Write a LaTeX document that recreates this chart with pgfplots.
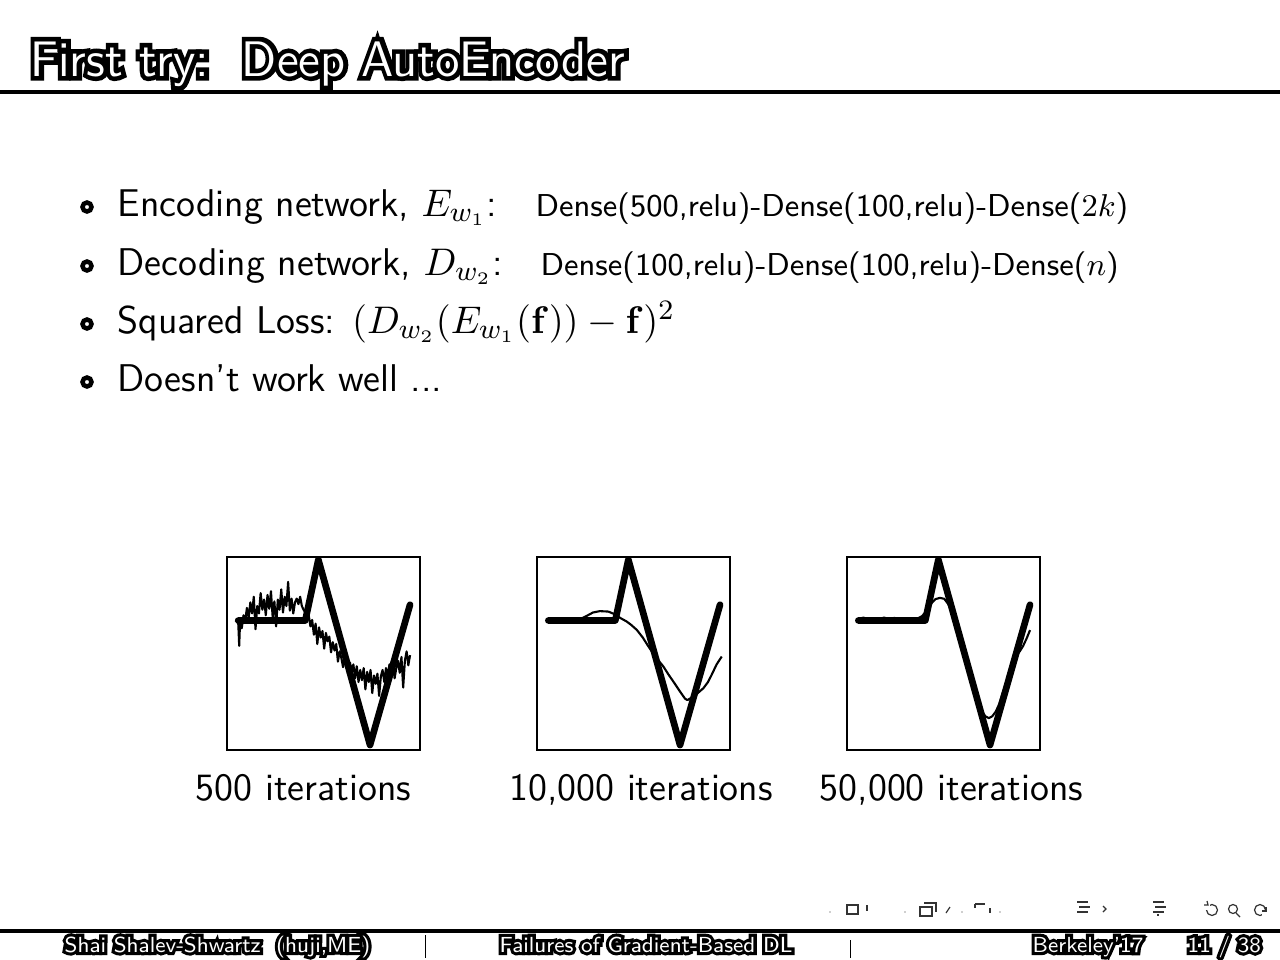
\documentclass[border=0pt]{standalone}
\usepackage{pgfplots}
\pgfplotsset{compat=1.18}
\usepackage{pgfplotstable}
\usepackage{amsmath}

\pgfplotstableread{
x y
0 0.344
39 0.344
46.6 1
76.7 -1
100 0.514
}\target

\pgfplotstableread{
x y
-1.5 0.33
-1 0.36
0 0.30
0.5 0.07
1 0.33
2 0.26
3 0.40
4 0.34
5 0.48
6 0.37
7 0.54
8 0.42
9 0.60
10 0.25
11 0.50
12 0.42
13 0.64
14 0.46
15 0.57
16 0.40
17 0.62
18 0.47
19 0.66
20 0.38
21 0.55
22 0.28
23 0.57
24 0.46
25 0.68
26 0.43
27 0.60
28 0.50
29 0.76
30 0.45
31 0.58
32 0.42
33 0.54
34 0.58
35 0.52
36 0.60
37 0.50
38 0.46
39 0.43
40 0.38
41 0.40
42 0.28
43 0.35
44 0.19
45 0.31
46 0.09
47 0.27
48 0.16
49 0.23
50 0.04
51 0.21
52 0.12
53 0.17
54 0.00
55 0.11
56 0.02
57 0.09
58 -0.10
59 0.01
60 -0.06
61 -0.16
62 -0.05
63 -0.12
64 -0.24
65 -0.11
66 -0.20
67 -0.13
68 -0.28
69 -0.15
70 -0.32
71 -0.19
72 -0.30
73 -0.17
74 -0.40
75 -0.21
76 -0.32
77 -0.19
78 -0.44
79 -0.25
80 -0.34
81 -0.23
82 -0.47
83 -0.26
84 -0.19
85 -0.32
86 -0.17
87 -0.26
88 -0.13
89 -0.24
90 -0.11
91 -0.28
92 -0.17
93 -0.09
94 -0.22
95 -0.05
96 -0.38
97 -0.09
98 0.01
99 -0.14
100 -0.03
}\noisyA

\pgfplotstableread{
x y
0 0.344
10 0.345
18 0.355
22 0.39
26 0.43
30 0.445
35 0.44
38.8 0.41
42 0.37
45.6 0.333
48 0.30
51.5 0.243
55 0.16
58.3 0.063
61 -0.01
63.1 -0.063
67 -0.153
70 -0.24
72.8 -0.315
76.7 -0.423
79.6 -0.50
81 -0.515
84.5 -0.477
87 -0.44
90.3 -0.387
93 -0.32
95.1 -0.243
98 -0.13
101 -0.045
}\smoothB

\pgfplotstableread{
x y
0 0.36
3 0.375
6 0.355
9 0.37
12 0.36
15 0.375
18 0.36
21 0.372
24 0.358
27 0.37
30 0.36
33 0.368
35 0.37
37 0.39
39 0.43
41 0.48
43 0.54
45 0.575
47.5 0.588
50 0.578
52 0.53
54 0.47
56 0.36
58 0.23
60 0.10
62 -0.03
64 -0.17
66 -0.30
68 -0.43
70 -0.55
72 -0.64
74 -0.69
76 -0.71
78 -0.69
80 -0.64
82 -0.56
84 -0.44
86 -0.33
88 -0.21
90 -0.11
92 -0.03
94 0.01
96 0.07
98 0.15
100 0.24
}\fitC

\newcommand{\outl}[4]{%
  \node[#2,text=black] at #1 {\special{pdf:literal direct 2 Tr #3 w}#4\special{pdf:literal direct 0 Tr}};
  \node[#2,text=white] at #1 {#4};}

\pgfplotsset{
  sq/.style={anchor=south west, width=19.3mm, height=19.3mm, scale only axis,
    xmin=-6.6, xmax=105.8, ymin=-1.054, ymax=1.029,
    xtick=\empty, ytick=\empty, axis line style={line width=0.2mm}, clip=false},
  tgt/.style={black, line width=1.9pt, line join=round, line cap=round, mark=none},
  rec/.style={black, line width=0.6pt, line join=round, mark=none},
}

\begin{document}
\begin{tikzpicture}[x=0.1mm,y=-0.1mm]
\useasboundingbox (0,0) rectangle (1280,960);
\fill[white] (0,0) rectangle (1280,960);
\coordinate (pa) at (227,750);
\coordinate (pb) at (537,750);
\coordinate (pc) at (847,750);

% title
\outl{(30,76)}{anchor=base west,inner sep=0pt,font=\fontsize{14.2}{17}\selectfont\sffamily}{2.6}{First try:\ \ Deep AutoEncoder}
\fill[black] (0,90) rectangle (1280,94);

% bullets
\tikzset{bt/.style={anchor=base west,inner sep=0pt,font=\fontsize{11}{13}\selectfont\sffamily},
         dn/.style={anchor=base west,inner sep=0pt,font=\fontsize{9}{11}\selectfont\sffamily}}
\foreach \yy in {207,266,324,382} \draw[line width=0.45mm] (87,\yy) circle[radius=0.45mm];
\node[bt] at (117,216) {Encoding network, $E_{w_1}$:};
\node[dn] at (535,216) {Dense(500,relu)-Dense(100,relu)-Dense($2k$)};
\node[bt] at (117,275) {Decoding network, $D_{w_2}$:};
\node[dn] at (540,275) {Dense(100,relu)-Dense(100,relu)-Dense($n$)};
\node[bt] at (117,333) {Squared Loss: $(D_{w_2}(E_{w_1}(\mathbf{f}))-\mathbf{f})^2$};
\node[bt] at (117,391) {Doesn't work well ...};

% plots
\begin{axis}[sq, at={(pa)}]
\addplot[tgt] table {\target};
\addplot[rec] table {\noisyA};
\end{axis}
\begin{axis}[sq, at={(pb)}]
\addplot[tgt] table {\target};
\addplot[rec] table {\smoothB};
\end{axis}
\begin{axis}[sq, at={(pc)}]
\addplot[tgt] table {\target};
\addplot[rec] table {\fitC};
\end{axis}

\node[bt,anchor=base] at (303.5,800) {500 iterations};
\node[bt,anchor=base] at (641,800) {10,000 iterations};
\node[bt,anchor=base] at (951.5,800) {50,000 iterations};

% navigation symbols
\begin{scope}[line width=0.12mm, black!80]
\fill (830,912) circle[radius=0.6];
\draw (847,905) rectangle (858,914);
\draw (867,905)--(867,911);
\fill (905,912) circle[radius=0.6];
\draw (920,907) rectangle (932,916);
\draw (924,903)--(936,903)--(936,912);
\draw (946,913)--(950,907);
\fill (962,912) circle[radius=0.6];
\draw (975,904)--(985,904); \draw (975,904)--(975,908);
\draw (990,908)--(990,913);
\fill (1000,912) circle[radius=0.6];
\draw (1077,902)--(1088,902) (1079,907)--(1090,907) (1077,912)--(1088,912);
\draw (1103,906)--(1106,909)--(1103,912);
\draw (1153,902)--(1164,902) (1155,907)--(1166,907) (1153,912)--(1164,912) (1158,914)--(1158,916);
\draw (1212,910) circle[radius=5.5];
\fill[white] (1205,904) rectangle (1210,910);
\draw (1204,905)--(1208,905)--(1207,901);
\draw (1233,909) circle[radius=4.5]; \draw (1236,913)--(1240,917);
\draw (1260,910) circle[radius=5.5];
\fill[white] (1262,911) rectangle (1268,917);
\draw (1266,907)--(1266,911)--(1262,911);
\end{scope}

% footer
\fill[black] (0,929) rectangle (1280,933);
\draw[line width=0.1mm] (425,935)--(425,958);
\draw[line width=0.1mm] (850,940)--(850,958);
\tikzset{ft/.style={anchor=base west,inner sep=0pt,font=\fontsize{6.2}{7}\selectfont\sffamily}}
\outl{(64,952)}{ft}{1.8}{Shai Shalev-Shwartz\ \ (huji,ME)}
\outl{(499,952)}{ft}{1.8}{Failures of Gradient-Based DL}
\outl{(1032,952)}{ft}{1.8}{Berkeley'17}
\outl{(1187,952)}{ft}{1.8}{11 / 38}
\end{tikzpicture}
\end{document}
